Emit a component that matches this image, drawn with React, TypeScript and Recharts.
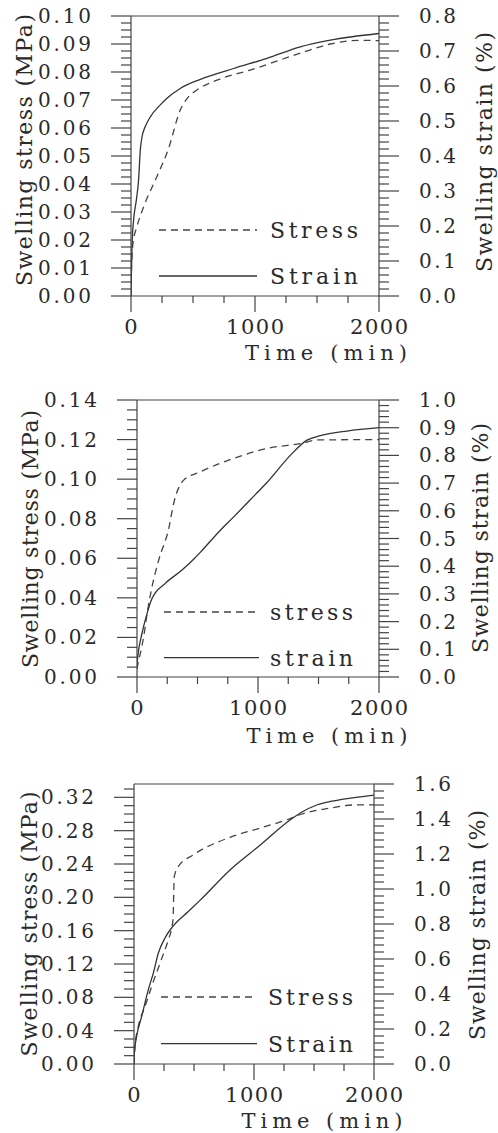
import React from 'react';
import { LineChart, Line, XAxis, YAxis, Legend, ReferenceLine } from 'recharts';

// ---- panel 1 ----
const stressTime1 = [0, 4, 16, 48, 102, 196, 303, 397, 465, 532, 693, 962, 1365, 1607, 1850, 2000];
const stress1 = [0, 0.01, 0.0188, 0.0248, 0.0319, 0.0414, 0.0527, 0.0664, 0.0712, 0.0736, 0.0771, 0.0807, 0.0867, 0.09, 0.0913, 0.0912];
const strainTime1 = [0, 3, 8, 21, 43, 61, 75, 89, 115, 156, 236, 290, 397, 559, 827, 1097, 1365, 1607, 2000];
const strain1 = [0, 0.06, 0.141, 0.217, 0.274, 0.331, 0.417, 0.455, 0.484, 0.512, 0.546, 0.565, 0.593, 0.619, 0.65, 0.679, 0.712, 0.731, 0.75];

// ---- panel 2 ----
const stressTime2 = [0, 8, 27, 55, 88, 124, 179, 262, 303, 386, 523, 799, 1074, 1350, 1500, 2000];
const stress2 = [0.004, 0.0068, 0.0118, 0.0202, 0.0338, 0.0455, 0.059, 0.075, 0.0877, 0.0995, 0.1037, 0.1105, 0.1155, 0.118, 0.1198, 0.12];
const strainTime2 = [0, 13, 41, 83, 124, 234, 372, 468, 523, 689, 799, 992, 1074, 1267, 1405, 1515, 1736, 2000];
const strain2 = [0.048, 0.096, 0.157, 0.229, 0.283, 0.338, 0.386, 0.425, 0.45, 0.53, 0.578, 0.665, 0.702, 0.8, 0.855, 0.871, 0.888, 0.9];

// ---- panel 3 ----
const stressTime3 = [0, 8, 36, 92, 147, 217, 286, 314, 326, 331, 336, 369, 494, 800, 1050, 1272, 1400, 1633, 1856, 2000];
const stress3 = [0, 0.021, 0.045, 0.069, 0.093, 0.121, 0.149, 0.163, 0.175, 0.205, 0.225, 0.237, 0.251, 0.272, 0.283, 0.293, 0.3, 0.307, 0.311, 0.311];
const strainTime3 = [0, 3, 22, 64, 119, 161, 203, 258, 322, 450, 550, 800, 1050, 1300, 1400, 1522, 1744, 2000];
const strain3 = [0, 0.063, 0.158, 0.272, 0.424, 0.519, 0.634, 0.72, 0.785, 0.87, 0.935, 1.109, 1.25, 1.394, 1.44, 1.48, 1.513, 1.537];

// axis labels
const timeTicks = [0, 250, 500, 750, 1000, 1250, 1500, 1750, 2000];
const timeLabels = [0, 1000, 2000];
const stressLabels1 = [0, 0.01, 0.02, 0.03, 0.04, 0.05, 0.06, 0.07, 0.08, 0.09, 0.1];
const strainLabels1 = [0, 0.1, 0.2, 0.3, 0.4, 0.5, 0.6, 0.7, 0.8];
const stressLabels2 = [0, 0.02, 0.04, 0.06, 0.08, 0.1, 0.12, 0.14];
const strainLabels2 = [0, 0.1, 0.2, 0.3, 0.4, 0.5, 0.6, 0.7, 0.8, 0.9, 1.0];
const stressLabels3 = [0, 0.04, 0.08, 0.12, 0.16, 0.2, 0.24, 0.28, 0.32];
const strainLabels3 = [0, 0.2, 0.4, 0.6, 0.8, 1.0, 1.2, 1.4, 1.6];

const FONT = '"DejaVu Serif", serif';
const INK = '#2a2a2a';
const AXIS = '#444';

const range = (max: number, step: number) => {
  const out: number[] = [];
  for (let i = 0; i * step <= max + 1e-9; i++) out.push(+(i * step).toFixed(5));
  return out;
};
const isMajor = (labels: number[], v: number) => labels.some((m) => Math.abs(m - v) < 1e-7);

const leftTick = (labels: number[]) => (props: any) => {
  const { x, y, payload } = props;
  const major = isMajor(labels, payload.value);
  return (
    <g>
      <line x1={x - (major ? 20 : 10)} x2={x} y1={y} y2={y} stroke={AXIS} strokeWidth={1.2} />
      {major && (
        <text x={x - 40} y={y + 7} textAnchor="end" fontFamily={FONT} fontSize={20} fill={INK}
          textLength={53} lengthAdjust="spacing">
          {payload.value.toFixed(2)}
        </text>
      )}
    </g>
  );
};

const rightTick = (labels: number[]) => (props: any) => {
  const { x, y, payload } = props;
  const major = isMajor(labels, payload.value);
  return (
    <g>
      <line x1={x} x2={x + (major ? 20 : 10)} y1={y} y2={y} stroke={AXIS} strokeWidth={1.2} />
      {major && (
        <text x={x + 40} y={y + 7} textAnchor="start" fontFamily={FONT} fontSize={20} fill={INK}
          textLength={37} lengthAdjust="spacing">
          {payload.value.toFixed(1)}
        </text>
      )}
    </g>
  );
};

const timeTick = (props: any) => {
  const { x, y, payload } = props;
  const major = isMajor(timeLabels, payload.value);
  const s = String(payload.value);
  return (
    <g>
      <line x1={x} x2={x} y1={y} y2={y + (major ? 16 : 7)} stroke={AXIS} strokeWidth={1.2} />
      {major && (
        <text x={x} y={y + 38} textAnchor="middle" fontFamily={FONT} fontSize={21} fill={INK}
          {...(s.length > 1 ? { textLength: 58, lengthAdjust: 'spacing' } : {})}>
          {s}
        </text>
      )}
    </g>
  );
};

const vTitle = (text: string, x: number, y: number, len: number) => () => (
  <text x={x} y={y} transform={`rotate(-90 ${x} ${y})`} textAnchor="middle" fontFamily={FONT}
    fontSize={22} fill={INK} textLength={len} lengthAdjust="spacing">
    {text}
  </text>
);

const hTitle = (x: number, y: number, len: number) => () => (
  <text x={x} y={y} textAnchor="middle" fontFamily={FONT} fontSize={21} fill={INK}
    textLength={len} lengthAdjust="spacing">
    Time  (min)
  </text>
);

const legendContent = (names: string[], gap: number, lineLen: number, textX: number, textLen: number) => (props: any) => {
  const items = [...(props.payload || [])].sort((a: any, b: any) => names.indexOf(a.value) - names.indexOf(b.value));
  return (
    <svg width={textX + textLen + 10} height={gap + 20} style={{ display: 'block', overflow: 'visible' }}>
      {items.map((e: any, i: number) => (
        <g key={e.value}>
          <line x1={0} x2={lineLen} y1={10 + i * gap} y2={10 + i * gap} stroke={e.color}
            strokeWidth={1.3} strokeDasharray={i === 0 ? '7 5' : undefined} />
          <text x={textX} y={10 + i * gap + 8} fontFamily={FONT} fontSize={22} fill={INK}
            textLength={textLen} lengthAdjust="spacing">
            {e.value}
          </text>
        </g>
      ))}
    </svg>
  );
};

const panels = [
  {
    stressT: stressTime1, stress: stress1, strainT: strainTime1, strain: strain1, names: ['Stress', 'Strain'],
    stressMax: 0.1, stressStep: 0.0025, stressLabels: stressLabels1,
    strainMax: 0.8, strainStep: 0.02, strainLabels: strainLabels1,
    height: 380, top: 16, leftW: 131, rightW: 119, xH: 84,
    leg: { left: 159, top: 220, gap: 46, line: 98, text: 111, len: 88 },
    tl: { x: 32, y: 150, len: 272 }, tr: { x: 492, y: 152, len: 240 }, tx: { x: 326, y: 360, len: 162 },
  },
  {
    stressT: stressTime2, stress: stress2, strainT: strainTime2, strain: strain2, names: ['stress', 'strain'],
    stressMax: 0.14, stressStep: 0.005, stressLabels: stressLabels2,
    strainMax: 1.0, strainStep: 0.02, strainLabels: strainLabels2,
    height: 380, top: 20, leftW: 137, rightW: 119, xH: 83,
    leg: { left: 164, top: 222, gap: 45.7, line: 95, text: 106, len: 83 },
    tl: { x: 38, y: 159, len: 258 }, tr: { x: 488, y: 158, len: 230 }, tx: { x: 327, y: 363, len: 161 },
  },
  {
    stressT: stressTime3, stress: stress3, strainT: strainTime3, strain: strain3, names: ['Stress', 'Strain'],
    stressMax: 0.336, stressStep: 0.01, stressLabels: stressLabels3,
    strainMax: 1.6, strainStep: 0.04, strainLabels: strainLabels3,
    height: 373, top: 24, leftW: 134, rightW: 124, xH: 69,
    leg: { left: 161, top: 226.7, gap: 46.6, line: 96, text: 107, len: 85 },
    tl: { x: 37, y: 164, len: 265 }, tr: { x: 485, y: 165, len: 230 }, tx: { x: 322, y: 368, len: 161 },
  },
];

function Panel({ p }: { p: (typeof panels)[number] }) {
  const stressData = p.stressT.map((t, i) => ({ t, stress: p.stress[i] }));
  const strainData = p.strainT.map((t, i) => ({ t, strain: p.strain[i] }));
  return (
    <LineChart width={498} height={p.height} margin={{ top: p.top, right: 0, bottom: 0, left: 0 }}>
      <XAxis dataKey="t" type="number" domain={[0, 2000]} ticks={timeTicks} interval={0}
        height={p.xH} tickSize={0} tickMargin={0} tickLine={false} tick={timeTick}
        axisLine={{ stroke: AXIS, strokeWidth: 1.2 }} allowDataOverflow
        label={{ content: hTitle(p.tx.x, p.tx.y, p.tx.len) }} />
      <YAxis yAxisId="left" type="number" domain={[0, p.stressMax]} allowDataOverflow
        ticks={range(p.stressMax, p.stressStep)} interval={0} width={p.leftW}
        tickSize={0} tickMargin={0} tickLine={false} tick={leftTick(p.stressLabels)}
        axisLine={{ stroke: AXIS, strokeWidth: 1.2 }}
        label={{ content: vTitle('Swelling  stress  (MPa)', p.tl.x, p.tl.y, p.tl.len) }} />
      <YAxis yAxisId="right" orientation="right" type="number" domain={[0, p.strainMax]} allowDataOverflow
        ticks={range(p.strainMax, p.strainStep)} interval={0} width={p.rightW}
        tickSize={0} tickMargin={0} tickLine={false} tick={rightTick(p.strainLabels)}
        axisLine={{ stroke: AXIS, strokeWidth: 1.2 }}
        label={{ content: vTitle('Swelling strain (%)', p.tr.x, p.tr.y, p.tr.len) }} />
      <ReferenceLine yAxisId="left" y={p.stressMax} stroke={AXIS} strokeWidth={1.2} ifOverflow="visible" />
      <Line yAxisId="left" data={stressData} dataKey="stress" name={p.names[0]} type="monotone"
        stroke="#444" strokeWidth={1.3} strokeDasharray="7 5" dot={false} isAnimationActive={false} />
      <Line yAxisId="right" data={strainData} dataKey="strain" name={p.names[1]} type="monotone"
        stroke="#333" strokeWidth={1.3} dot={false} isAnimationActive={false} />
      <Legend layout="vertical" align="center" verticalAlign="middle"
        wrapperStyle={{ position: 'absolute', left: p.leg.left, top: p.leg.top, width: 260, height: 80 }}
        content={legendContent(p.names, p.leg.gap, p.leg.line, p.leg.text, p.leg.len)} />
    </LineChart>
  );
}

export default function App() {
  return (
    <div style={{ width: 498, background: '#fff' }}>
      <style>{'body{margin:0;background:#fff}'}</style>
      {panels.map((p, i) => (
        <Panel key={i} p={p} />
      ))}
    </div>
  );
}
